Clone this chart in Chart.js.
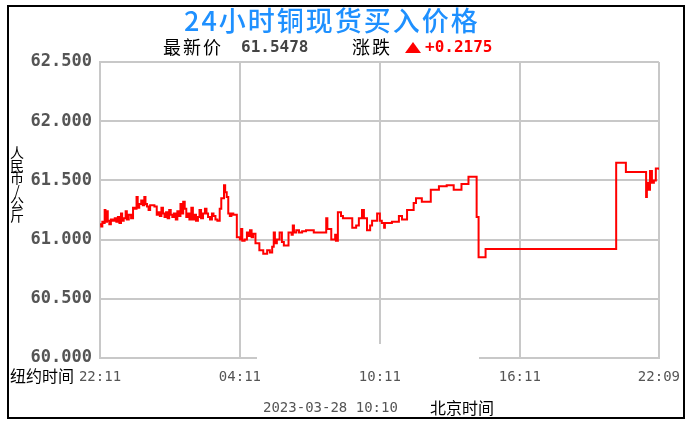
<!DOCTYPE html>
<html>
<head>
<meta charset="utf-8">
<script src="https://cdn.jsdelivr.net/npm/chart.js@4"></script>
<style>
  body { margin: 0; background: #fff; }
  canvas { display: block; }
</style>
</head>
<body>
<canvas id="copperChart" width="691" height="428"></canvas>
<script>
// minutes since 22:11 (New York time) and the buy price at that moment
const times = [
    0, 3, 6, 9, 12, 14, 18, 20, 24, 28, 33, 38, 42, 46, 50, 54, 57, 61, 66, 69,
    74, 80, 85, 90, 94, 97, 101, 106, 110, 114, 117, 121, 125, 129, 134, 140, 146, 150, 154, 158,
    162, 166, 170, 174, 178, 182, 186, 190, 195, 199, 203, 207, 210, 214, 218, 222, 226, 230, 235, 239,
    243, 247, 252, 256, 260, 265, 270, 274, 278, 283, 288, 292, 297, 302, 308, 312, 315, 319, 322, 326,
    330, 334, 338, 343, 352, 360, 363, 366, 372, 378, 382, 386, 390, 394, 400, 410, 420, 430, 437, 443,
    447, 450, 455, 462, 468, 473, 485, 493, 496, 499, 505, 512, 520, 530, 541, 550, 582, 585, 595, 605,
    607, 612, 620, 625, 649, 659, 666, 674, 679, 687, 695, 700, 713, 720, 725, 731, 733, 751, 769, 777,
    790, 807, 813, 828, 851, 872, 892, 910, 930, 948, 969, 974, 992, 1328, 1353, 1405, 1407, 1412, 1415, 1420,
    1425, 1430, 1438
];
const prices = [
    61.13, 61.11, 61.15, 61.14, 61.25, 61.15, 61.24, 61.16, 61.13, 61.17, 61.16, 61.18, 61.15, 61.19, 61.14, 61.22, 61.16, 61.18, 61.24, 61.17,
    61.21, 61.18, 61.27, 61.26, 61.36, 61.27, 61.30, 61.33, 61.29, 61.36, 61.30, 61.28, 61.25, 61.29, 61.29, 61.28, 61.21, 61.23, 61.20, 61.27,
    61.22, 61.19, 61.23, 61.18, 61.25, 61.21, 61.19, 61.22, 61.17, 61.24, 61.20, 61.30, 61.22, 61.32, 61.26, 61.19, 61.22, 61.17, 61.27, 61.17,
    61.21, 61.16, 61.19, 61.25, 61.18, 61.22, 61.26, 61.22, 61.19, 61.17, 61.22, 61.20, 61.17, 61.16, 61.26, 61.35, 61.35, 61.46, 61.40, 61.36,
    61.22, 61.20, 61.22, 61.21, 61.02, 61.00, 61.09, 60.99, 61.00, 61.06, 61.03, 61.08, 61.02, 61.05, 60.97, 60.91, 60.88, 60.91, 60.89, 60.94,
    61.06, 60.97, 61.00, 61.06, 60.98, 60.95, 61.06, 61.04, 61.12, 61.06, 61.08, 61.06, 61.07, 61.08, 61.08, 61.06, 61.18, 61.09, 61.00, 61.04,
    60.99, 61.23, 61.20, 61.18, 61.10, 61.12, 61.18, 61.25, 61.18, 61.08, 61.12, 61.16, 61.22, 61.16, 61.14, 61.10, 61.14, 61.15, 61.20, 61.17,
    61.25, 61.31, 61.35, 61.32, 61.42, 61.45, 61.46, 61.42, 61.47, 61.53, 61.19, 60.85, 60.92, 61.65, 61.57, 61.36, 61.48, 61.42, 61.58, 61.48,
    61.50, 61.60, 61.59
];
const tickMinutes = [0, 360, 720, 1080, 1438];
const tickLabels = ['22:11', '04:11', '10:11', '16:11', '22:09'];
const yMin = 60, yMax = 62.5, yStep = 0.5;

const titleText = '24小时铜现货买入价格';
const lastPrice = '61.5478';
const change = '+0.2175';
const stampText = '2023-03-28 10:10';

const CJK = '"Noto Sans CJK SC", sans-serif';
const MONO = '"DejaVu Sans Mono", monospace';

// texts and frame that sit outside the plot
const decorPlugin = {
    id: 'decor',
    afterDraw(chart) {
        const ctx = chart.ctx;
        ctx.save();

        // white smudge over the bottom of the plot
        ctx.fillStyle = '#fff';
        ctx.fillRect(257, 344, 222, 17);

        // outer frame
        ctx.strokeStyle = '#000';
        ctx.lineWidth = 2;
        ctx.strokeRect(8, 6, 676, 412);

        // title
        ctx.textBaseline = 'middle';
        ctx.textAlign = 'left';
        ctx.fillStyle = '#1e90ff';
        ctx.font = '500 27px ' + CJK;
        ctx.letterSpacing = '2px';
        ctx.fillText(titleText, 184, 21);
        ctx.letterSpacing = '0px';

        // latest price line
        ctx.font = '18px ' + CJK;
        ctx.fillStyle = '#000';
        ctx.letterSpacing = '2px';
        ctx.fillText('最新价', 163, 47);
        ctx.fillText('涨跌', 352, 47);
        ctx.letterSpacing = '0px';
        ctx.font = 'bold 16px ' + MONO;
        ctx.fillStyle = '#444';
        ctx.fillText(lastPrice, 241, 48);
        ctx.fillStyle = '#ff0000';
        ctx.beginPath();
        ctx.moveTo(405, 53);
        ctx.lineTo(421, 53);
        ctx.lineTo(413, 42);
        ctx.closePath();
        ctx.fill();
        ctx.fillText(change, 425, 48);

        // vertical unit label
        ctx.fillStyle = '#000';
        ctx.font = '14px ' + CJK;
        ctx.textAlign = 'center';
        const unit = ['人', '民', '币', '/', '公', '斤'];
        unit.forEach((c, i) => ctx.fillText(c, 17, 153 + i * 12.5));

        // time zone labels
        ctx.textAlign = 'left';
        ctx.font = '16px ' + CJK;
        ctx.fillText('纽约时间', 10, 376);
        ctx.fillText('北京时间', 430, 408);
        ctx.font = '14px ' + MONO;
        ctx.fillStyle = '#555';
        ctx.fillText(stampText, 263, 408);

        ctx.restore();
    }
};

const ctx = document.getElementById('copperChart').getContext('2d');
new Chart(ctx, {
    type: 'line',
    data: {
        datasets: [{
            data: times.map((t, i) => ({ x: t, y: prices[i] })),
            borderColor: '#ff0000',
            borderWidth: 2,
            stepped: true,
            pointRadius: 0,
            fill: false
        }]
    },
    options: {
        responsive: false,
        animation: false,
        layout: { padding: { left: 0, right: 30, top: 62, bottom: 40 } },
        plugins: { legend: { display: false }, tooltip: { enabled: false } },
        scales: {
            x: {
                type: 'linear',
                min: 0,
                max: 1438,
                afterBuildTicks: s => { s.ticks = tickMinutes.map(v => ({ value: v })); },
                afterFit: s => { s.height = 30; },
                ticks: {
                    autoSkip: false,
                    maxRotation: 0,
                    padding: 11,
                    color: '#555',
                    font: { family: MONO, size: 14 },
                    callback: (v, i) => tickLabels[i]
                },
                grid: { color: '#c8c8c8', lineWidth: 2, drawTicks: false },
                border: { color: '#c8c8c8', width: 2 }
            },
            y: {
                min: yMin,
                max: yMax,
                afterFit: s => { s.width = 100; },
                ticks: {
                    stepSize: yStep,
                    padding: 8,
                    color: '#555',
                    font: { family: MONO, size: 17, weight: 'bold' },
                    callback: v => v.toFixed(3)
                },
                grid: { color: '#c8c8c8', lineWidth: 2, drawTicks: false },
                border: { color: '#c8c8c8', width: 2 }
            }
        }
    },
    plugins: [decorPlugin]
});
</script>
</body>
</html>
